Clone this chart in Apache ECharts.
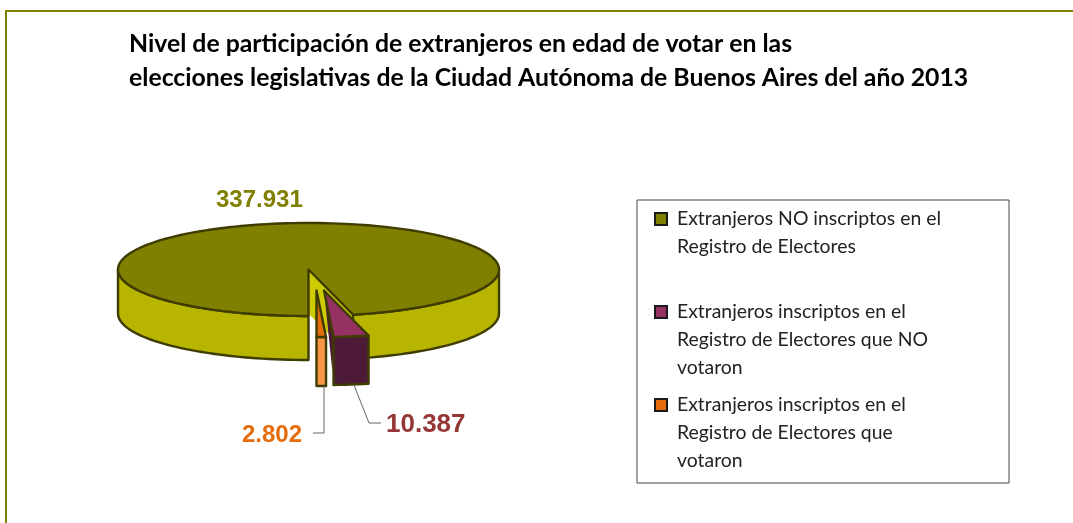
<!DOCTYPE html>
<html>
<head>
<meta charset="utf-8">
<style>html,body{margin:0;padding:0;background:#fff}#main{width:1073px;height:523px}</style>
<script src="https://cdn.jsdelivr.net/npm/echarts@6/dist/echarts.min.js"></script>
</head>
<body>
<div id="main"></div>
<script>
// datos
var categories = [
  'Extranjeros NO inscriptos en el\nRegistro de Electores\n ',
  'Extranjeros inscriptos en el\nRegistro de Electores que NO\nvotaron',
  'Extranjeros inscriptos en el\nRegistro de Electores que\nvotaron'
];
var values = [337931, 10387, 2802];
var titleText = 'Nivel de participación de extranjeros en edad de votar en las\nelecciones legislativas de la Ciudad Autónoma de Buenos Aires del año 2013';

// colores
var topColors = ['#808000', '#953163', '#E46C0A'];
var sideColors = ['#B8B500', '#4D1B37', '#F79646'];
var cutColors = ['#CCCC00', '#4D1B37', '#F79646'];
var labelColors = ['#808000', '#953735', '#E46C0A'];
var edgeColor = '#3F3C00';

// geometria del pie "3D"
var cx = 308.5, cy = 269.5, rx = 190.5, ry = 46.5;
var startAngle = 180;          // primer sector arranca abajo
var offsetX = [0, 15.5, 8];    // explode de cada sector
var offsetY = [0, 21, 21];
var depths = [44, 48, 49];
var labelPos = [[216, 200, 24], [386, 425, 26], [242, 435, 24]];
var leaderLines = [null, [[354, 385], [369, 423], [381, 423]], [[324, 386], [324, 433], [313, 433]]];

var total = values.reduce(function (a, b) { return a + b; }, 0);

function fmt(v) {
  return String(v).replace(/\B(?=(\d{3})+$)/g, '.');
}

function arcPoint(deg, x0, y0) {
  var a = deg * Math.PI / 180;
  return [x0 + rx * Math.sin(a), y0 - ry * Math.cos(a)];
}

function arcPoints(from, to, x0, y0) {
  var pts = [];
  var n = Math.max(2, Math.ceil((to - from) / 2));
  for (var i = 0; i <= n; i++) {
    pts.push(arcPoint(from + (to - from) * i / n, x0, y0));
  }
  return pts;
}

function face(points, fill, stroked) {
  return {
    type: 'polygon',
    shape: { points: points },
    style: { fill: fill, stroke: stroked ? edgeColor : null, lineWidth: stroked ? 2.4 : 0, lineJoin: 'round' }
  };
}

// pared exterior: solo la parte del arco que mira al frente (90 a 270, +360)
function wall(from, to, x0, y0, depth, fill) {
  var out = [];
  [90, 450].forEach(function (s) {
    var a = Math.max(from, s), b = Math.min(to, s + 180);
    if (b > a) {
      var upper = arcPoints(a, b, x0, y0);
      var lower = upper.map(function (p) { return [p[0], p[1] + depth]; }).reverse();
      out.push(face(upper.concat(lower), fill, true));
    }
  });
  return out;
}

function renderSlice(idx) {
  return function (params, api) {
    var value = api.value(0);
    var before = values.slice(0, idx).reduce(function (a, b) { return a + b; }, 0);
    var from = startAngle + before / total * 360;
    var to = from + value / total * 360;
    var x0 = cx + offsetX[idx], y0 = cy + offsetY[idx], d = depths[idx];
    var children = [];

    // cara del corte (en los sectores separados casi de canto, queda una astilla)
    var e = arcPoint(to, x0, y0);
    if (idx === 0) {
      children.push(face([[x0, y0], [x0, y0 + d], [e[0], e[1] + d], e], cutColors[idx], false));
    } else {
      children.push(face([[x0, y0], [e[0] - 1, e[1] + d * 0.75], e], cutColors[idx], false));
    }

    children = children.concat(wall(from, to, x0, y0, d, sideColors[idx]));
    children.push(face([[x0, y0]].concat(arcPoints(from, to, x0, y0)), topColors[idx], true));

    if (leaderLines[idx]) {
      children.push({
        type: 'polyline',
        shape: { points: leaderLines[idx] },
        style: { fill: null, stroke: '#666', lineWidth: 1 }
      });
    }
    var lp = labelPos[idx];
    children.push({
      type: 'text',
      style: {
        text: fmt(value), x: lp[0], y: lp[1], fill: labelColors[idx],
        font: 'bold ' + lp[2] + 'px "Liberation Sans"', textVerticalAlign: 'middle'
      }
    });
    return { type: 'group', children: children };
  };
}

var chart = echarts.init(document.getElementById('main'));
var option = {
  animation: false,
  backgroundColor: '#fff',
  title: {
    text: titleText,
    left: 129,
    top: 27,
    padding: 0,
    textStyle: { fontFamily: 'Lato', fontWeight: 'bold', fontSize: 24.8, lineHeight: 34, color: '#000' }
  },
  legend: {
    orient: 'vertical',
    left: 637,
    top: 200,
    padding: [4, 68, 7, 17],
    itemGap: 7,
    itemWidth: 17,
    itemHeight: 84,
    symbolKeepAspect: false,
    selectedMode: false,
    backgroundColor: '#fff',
    borderColor: '#444',
    borderWidth: 1,
    borderRadius: 0,
    // cuadradito alineado con la primera linea del texto
    icon: 'path://M0 8H12V20H0Z M0 0L0 0 M17 84L17 84',
    itemStyle: { borderColor: '#1a1a1a', borderWidth: 2 },
    textStyle: { fontFamily: 'Lato', fontSize: 19.4, lineHeight: 28, color: '#222' },
    data: categories
  },
  graphic: [{
    type: 'polyline',
    silent: true,
    shape: { points: [[6, 523], [6, 11], [1073, 11]] },
    style: { fill: null, stroke: '#808000', lineWidth: 2 }
  }],
  series: categories.map(function (name, i) {
    return {
      type: 'custom',
      name: name,
      coordinateSystem: 'none',
      silent: true,
      itemStyle: { color: topColors[i] },
      renderItem: renderSlice(i),
      data: [values[i]]
    };
  })
};
chart.setOption(option);
</script>
</body>
</html>
